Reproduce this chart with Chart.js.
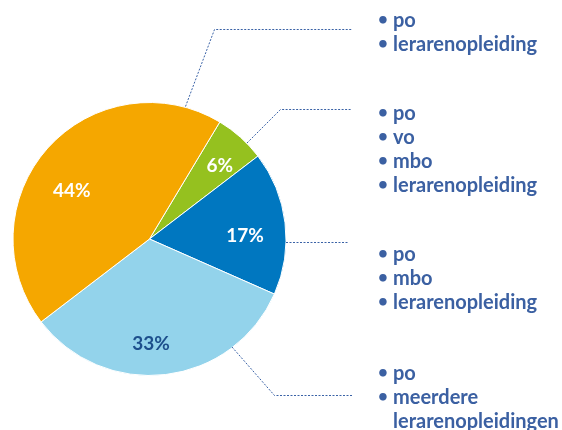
<!DOCTYPE html>
<html>
<head>
<meta charset="utf-8">
<script src="https://cdn.jsdelivr.net/npm/chart.js@4/dist/chart.umd.min.js"></script>
<style>
  body { margin: 0; background: #fff; }
  #wrap { position: relative; width: 562px; height: 430px; font-family: Lato, "Open Sans", sans-serif; }
  canvas { position: absolute; left: 0; top: 0; }
  .block { position: absolute; left: 377px; color: #3b60a2; font-weight: bold; font-size: 20px; line-height: 24px; }
  .block div { position: relative; padding-left: 16px; white-space: nowrap; }
  .block div.b::before { content: "\2022"; position: absolute; left: 1px; top: 0; font-size: 17px; }
</style>
</head>
<body>
<div id="wrap">
  <canvas id="pie" width="562" height="430"></canvas>
</div>
<script>
// slice data, clockwise from the top-right
const categories = ["po + vo + mbo + lerarenopleiding", "po + mbo + lerarenopleiding", "po + meerdere lerarenopleidingen", "po + lerarenopleiding"];
const shares = [6, 17, 33, 44];
const sliceColors = ["#95c11f", "#0077c0", "#93d3eb", "#f5a700"];
const labelColors = ["#ffffff", "#ffffff", "#1d4f8c", "#ffffff"];

// text blocks on the right ("~" prefix means wrapped continuation, no bullet)
const blockLines = [
  ["po", "lerarenopleiding"],
  ["po", "vo", "mbo", "lerarenopleiding"],
  ["po", "mbo", "lerarenopleiding"],
  ["po", "meerdere", "~lerarenopleidingen"]
];
const blockTops = [7, 100, 241, 360];

const wrap = document.getElementById("wrap");
blockLines.forEach((lines, i) => {
  const el = document.createElement("div");
  el.className = "block";
  el.style.top = blockTops[i] + "px";
  lines.forEach(t => {
    const line = document.createElement("div");
    if (t.startsWith("~")) {
      line.textContent = t.slice(1);
    } else {
      line.className = "b";
      line.textContent = t;
    }
    el.appendChild(line);
  });
  wrap.appendChild(el);
});

// percentage labels inside slices
const sliceLabels = {
  id: "sliceLabels",
  afterDatasetsDraw(chart, args, opts) {
    const ctx = chart.ctx;
    const arcs = chart.getDatasetMeta(0).data;
    ctx.save();
    ctx.font = "bold 19px Lato, 'Open Sans', sans-serif";
    ctx.textAlign = "center";
    ctx.textBaseline = "middle";
    arcs.forEach((arc, i) => {
      const p = arc.getProps(["x", "y", "startAngle", "endAngle", "outerRadius"], true);
      const o = opts.place[i];
      const mid = (p.startAngle + p.endAngle) / 2 + o.da * Math.PI / 180;
      const r = p.outerRadius * o.f;
      ctx.fillStyle = labelColors[i];
      ctx.fillText(shares[i] + "%", p.x + Math.cos(mid) * r, p.y + Math.sin(mid) * r);
    });
    ctx.restore();
  }
};

// dotted leader lines to the text blocks
const leaders = {
  id: "leaders",
  afterDraw(chart, args, opts) {
    const ctx = chart.ctx;
    ctx.save();
    ctx.strokeStyle = "#3a62a6";
    ctx.lineWidth = 1;
    ctx.setLineDash([2, 1.5]);
    opts.paths.forEach(pts => {
      ctx.beginPath();
      ctx.moveTo(pts[0][0], pts[0][1]);
      for (let k = 1; k < pts.length; k++) ctx.lineTo(pts[k][0], pts[k][1]);
      ctx.stroke();
    });
    ctx.restore();
  }
};

new Chart(document.getElementById("pie").getContext("2d"), {
  type: "pie",
  data: {
    labels: categories,
    datasets: [{
      data: shares,
      backgroundColor: sliceColors,
      borderColor: "#ffffff",
      borderWidth: 1
    }]
  },
  options: {
    responsive: false,
    animation: false,
    rotation: 31,
    layout: { padding: { left: 12, right: 275, top: 102, bottom: 54 } },
    plugins: {
      legend: { display: false },
      tooltip: { enabled: false },
      sliceLabels: {
        place: [{ f: 0.745, da: 2 }, { f: 0.7, da: 5 }, { f: 0.77, da: 6 }, { f: 0.67, da: -10 }]
      },
      leaders: {
        paths: [
          [[185.5, 106.5], [214.5, 29.5], [352, 29.5]],
          [[247, 143], [280.5, 109.5], [352, 109.5]],
          [[286, 242.5], [348, 242.5]],
          [[232, 347], [274.5, 395.5], [352, 395.5]]
        ]
      }
    }
  },
  plugins: [sliceLabels, leaders]
});
</script>
</body>
</html>
